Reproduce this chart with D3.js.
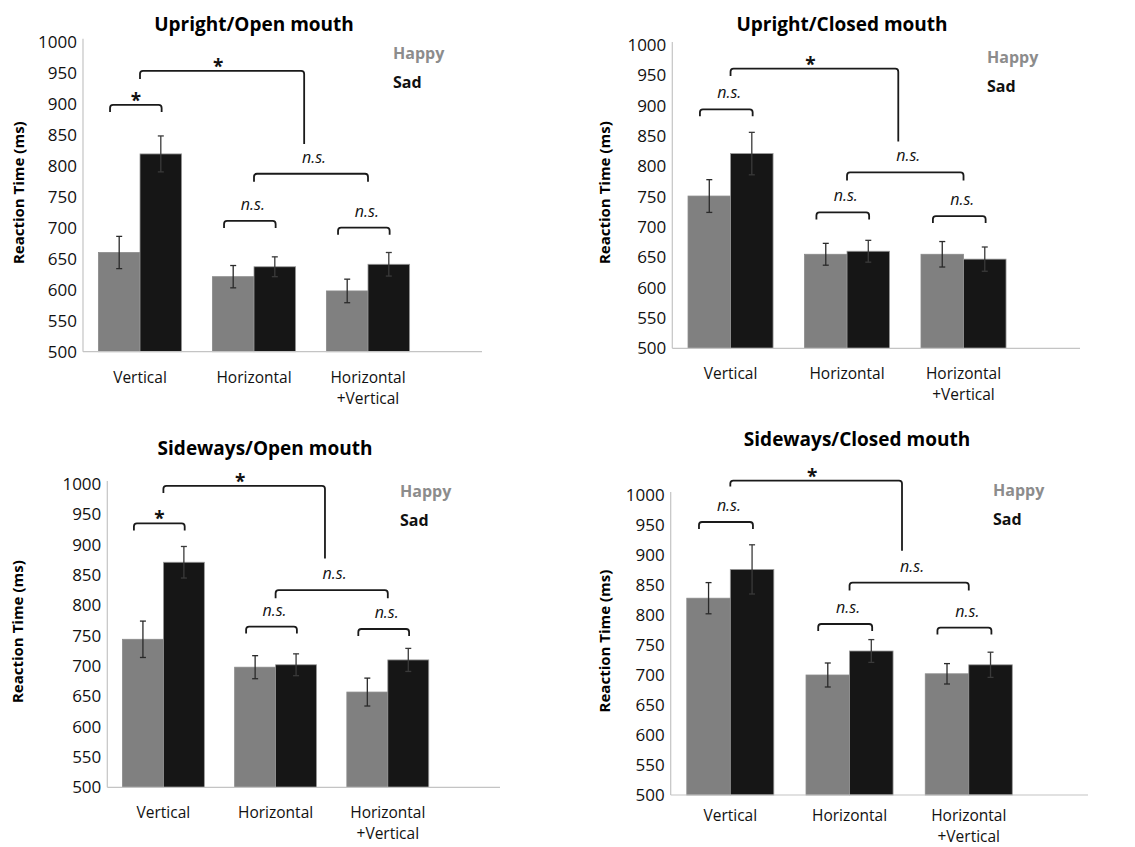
<!DOCTYPE html>
<html>
<head>
<meta charset="utf-8">
<script src="https://cdn.jsdelivr.net/npm/d3@7"></script>
<style>
  html, body { margin: 0; padding: 0; background: #fff; }
  svg { display: block; font-family: "Open Sans", sans-serif; }
</style>
</head>
<body>
<div class="graphic"></div>
<script>
// chart values
var categories = ['V', 'H', 'HV']
var categoryLabels = [['Vertical'], ['Horizontal'], ['Horizontal', '+Vertical']]
var panelTitles = ['Upright/Open mouth', 'Upright/Closed mouth', 'Sideways/Open mouth', 'Sideways/Closed mouth']
var seriesNames = ['Happy', 'Sad']
var yTicks = [500, 550, 600, 650, 700, 750, 800, 850, 900, 950, 1000]

var happyMeans = [[660, 621, 598], [751, 655, 655], [744, 698, 657], [828, 700, 702]]
var sadMeans = [[819, 637, 641], [821, 660, 647], [871, 702, 710], [876, 740, 717]]
var happyErr = [[26, 18, 19], [27, 18, 21], [30, 19, 23], [26, 20, 17]]
var sadErr = [[29, 16, 19], [35, 18, 20], [26, 18, 19], [41, 19, 21]]

// happy vs sad within each category: bracket height (ms) and label
var pairBracketY = [[898, 711, 700], [894, 724, 718], [935, 765, 761], [955, 785, 779]]
var pairLabels = [['*', 'n.s.', 'n.s.'], ['n.s.', 'n.s.', 'n.s.'], ['*', 'n.s.', 'n.s.'], ['n.s.', 'n.s.', 'n.s.']]
// horizontal vs horizontal+vertical
var midBracketY = [787, 790, 825, 854]
var midLabels = ['n.s.', 'n.s.', 'n.s.', 'n.s.']
// vertical vs the others: [top, left leg end, right leg end]
var bigBracketY = [[953, 940, 835], [961, 949, 841], [997, 985, 877], [1024, 1014, 907]]
var bigLabels = ['*', '*', '*', '*']

// layout of the four panels on the page
var layout = [
    { x0: 83, xEnd: 482, yTop: 41.7, yBot: 351.7, titleX: 254, titleY: 31, ylabX: 19, legX: 393, legY: 53, catDy: 31 },
    { x0: 672.3, xEnd: 1080, yTop: 45, yBot: 348.3, titleX: 842, titleY: 31, ylabX: 605, legX: 987, legY: 57, catDy: 31 },
    { x0: 107.3, xEnd: 500, yTop: 484, yBot: 787.3, titleX: 265, titleY: 455, ylabX: 18, legX: 400, legY: 491, catDy: 31 },
    { x0: 670.7, xEnd: 1088, yTop: 495, yBot: 795, titleX: 857, titleY: 446, ylabX: 605, legX: 993, legY: 490, catDy: 26 }
]

var colors = { Happy: '#808080', Sad: '#161616' }
var legendColors = { Happy: '#8c8c8c', Sad: '#111' }

var svg = d3.select('.graphic').append('svg')
    .attr('width', 1135)
    .attr('height', 847)

function bracketPath(x1, x2, y, y1, y2) {
    var r = 3
    return 'M' + x1 + ',' + y1 + 'L' + x1 + ',' + (y + r) + 'Q' + x1 + ',' + y + ' ' + (x1 + r) + ',' + y +
        'L' + (x2 - r) + ',' + y + 'Q' + x2 + ',' + y + ' ' + x2 + ',' + (y + r) + 'L' + x2 + ',' + y2
}

function drawPanel(p) {
    var L = layout[p]
    var g = svg.append('g')
    var step = (L.xEnd - L.x0) / 3.5

    var x = d3.scaleBand()
        .domain(categories)
        .range([L.x0, L.x0 + 3 * step])
        .paddingInner(0.27)
        .paddingOuter(0.135)
    var xs = d3.scaleBand().domain(seriesNames).range([0, x.bandwidth()])
    var y = d3.scaleLinear().domain([500, 1000]).range([L.yBot, L.yTop])
    var bw = xs.bandwidth()
    var cx = function(c) { return x(c) + x.bandwidth() / 2 }

    // title
    g.append('text')
        .attr('x', L.titleX).attr('y', L.titleY)
        .attr('text-anchor', 'middle')
        .style('font-size', '19px').style('font-weight', 700)
        .text(panelTitles[p])

    // y axis
    var yAxis = g.append('g')
        .attr('transform', 'translate(' + L.x0 + ',0)')
        .call(d3.axisLeft(y).tickValues(yTicks).tickFormat(d3.format('d')).tickSize(0).tickPadding(6))
    yAxis.select('.domain').remove()
    yAxis.selectAll('text').style('font-size', '17px').style('font-family', '"Open Sans", sans-serif').attr('fill', '#111')

    g.append('text')
        .attr('transform', 'translate(' + L.ylabX + ',' + ((L.yTop + L.yBot) / 2 - 4) + ') rotate(-90)')
        .attr('text-anchor', 'middle')
        .attr('dy', '0.35em')
        .style('font-size', '15px').style('font-weight', 700)
        .text('Reaction Time (ms)')

    // bars
    var rows = categories.map(function(c, i) {
        return [
            { cat: c, s: 'Happy', v: happyMeans[p][i], e: happyErr[p][i] },
            { cat: c, s: 'Sad', v: sadMeans[p][i], e: sadErr[p][i] }
        ]
    })
    var flat = [].concat.apply([], rows)

    g.selectAll('rect.bar').data(flat).enter().append('rect')
        .attr('class', 'bar')
        .attr('x', function(d) { return x(d.cat) + xs(d.s) })
        .attr('y', function(d) { return y(d.v) })
        .attr('width', bw)
        .attr('height', function(d) { return y(500) - y(d.v) })
        .attr('fill', function(d) { return colors[d.s] })
        .attr('stroke', function(d) { return d.s === 'Sad' ? '#9a9a9a' : '#8a8a8a' })
        .attr('stroke-width', 0.8)

    // axis lines
    g.append('line')
        .attr('x1', L.x0).attr('x2', L.x0)
        .attr('y1', y(1000) - 3).attr('y2', y(500))
        .attr('stroke', '#c4c4c4').attr('stroke-width', 1.2)
    g.append('line')
        .attr('x1', L.x0).attr('x2', L.xEnd)
        .attr('y1', y(500)).attr('y2', y(500))
        .attr('stroke', '#c4c4c4').attr('stroke-width', 1.2)

    // error bars
    var eb = g.selectAll('g.err').data(flat).enter().append('g').attr('class', 'err')
        .attr('stroke', function(d) { return d.s === 'Sad' ? '#3a3a3a' : '#2a2a2a' })
        .attr('stroke-width', 1.3)
    eb.append('line')
        .attr('x1', function(d) { return x(d.cat) + xs(d.s) + bw / 2 })
        .attr('x2', function(d) { return x(d.cat) + xs(d.s) + bw / 2 })
        .attr('y1', function(d) { return y(d.v + d.e) })
        .attr('y2', function(d) { return y(d.v - d.e) })
    eb.selectAll('line.cap').data(function(d) { return [[d, d.v + d.e], [d, d.v - d.e]] }).enter()
        .append('line').attr('class', 'cap')
        .attr('x1', function(d) { return x(d[0].cat) + xs(d[0].s) + bw / 2 - 3 })
        .attr('x2', function(d) { return x(d[0].cat) + xs(d[0].s) + bw / 2 + 3 })
        .attr('y1', function(d) { return y(d[1]) })
        .attr('y2', function(d) { return y(d[1]) })

    // category labels
    var xl = g.selectAll('text.cat').data(categories).enter().append('text')
        .attr('class', 'cat')
        .attr('text-anchor', 'middle')
        .attr('x', cx)
        .attr('y', y(500) + L.catDy)
        .style('font-size', '15.5px')
        .attr('fill', '#111')
    xl.selectAll('tspan').data(function(d, i) { return categoryLabels[i] }).enter()
        .append('tspan')
        .attr('x', function() { return cx(d3.select(this.parentNode).datum()) })
        .attr('dy', function(d, i) { return i === 0 ? 0 : 21 })
        .text(function(d) { return d })

    // legend
    g.selectAll('text.leg').data(seriesNames).enter().append('text')
        .attr('class', 'leg')
        .attr('x', L.legX)
        .attr('y', function(d, i) { return L.legY + 6 + i * 29 })
        .style('font-size', '16px').style('font-weight', 700)
        .attr('fill', function(d) { return legendColors[d] })
        .text(function(d) { return d })

    var br = g.append('g').attr('fill', 'none').attr('stroke', '#1a1a1a').attr('stroke-width', 1.8)
    var leg = 7

    function label(txt, xc, yb) {
        var star = txt === '*'
        g.append('text')
            .attr('x', star ? xc : xc + 3)
            .attr('y', star ? yb + 2 : yb - 11)
            .attr('text-anchor', 'middle')
            .style('font-size', star ? '19px' : '16px')
            .style('font-style', star ? 'normal' : 'italic')
            .style('font-weight', star ? 700 : 400)
            .attr('fill', '#111')
            .text(txt)
    }

    // pair brackets
    categories.forEach(function(c, i) {
        var x1 = cx(c) - 0.72 * bw
        var x2 = cx(c) + 0.52 * bw
        var yb = y(pairBracketY[p][i])
        br.append('path').attr('d', bracketPath(x1, x2, yb, yb + leg, yb + leg))
        label(pairLabels[p][i], (x1 + x2) / 2, yb)
    })

    // horizontal vs horizontal+vertical
    var m1 = cx('H'), m2 = cx('HV')
    var ym = y(midBracketY[p])
    br.append('path').attr('d', bracketPath(m1, m2, ym, ym + 8, ym + 8))
    label(midLabels[p], (m1 + m2) / 2, ym)

    // vertical vs the rest
    var b1 = cx('V')
    var b2 = (m1 + m2) / 2 - 0.06 * step
    var yt = y(bigBracketY[p][0])
    br.append('path').attr('d', bracketPath(b1, b2, yt, y(bigBracketY[p][1]), y(bigBracketY[p][2])))
    label(bigLabels[p], (b1 + b2) / 2 - 4, yt)
}

panelTitles.forEach(function(t, i) { drawPanel(i) })
</script>
</body>
</html>
